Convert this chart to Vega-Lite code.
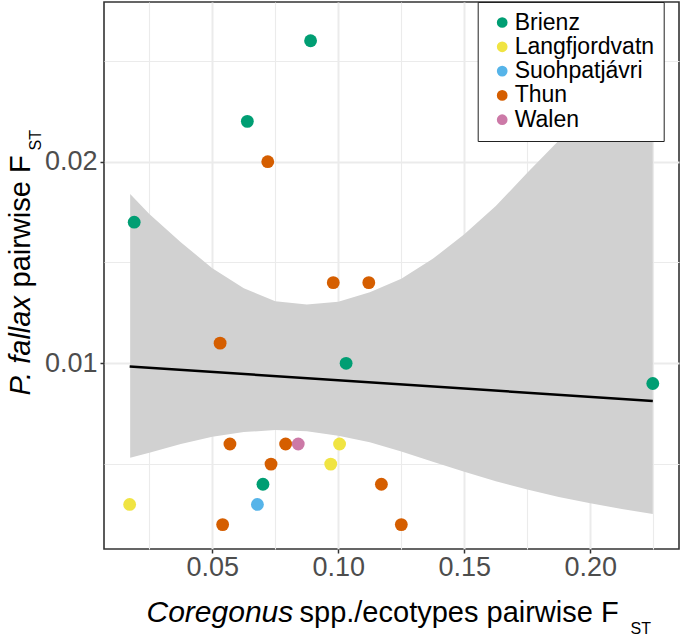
{
  "$schema": "https://vega.github.io/schema/vega-lite/v6.json",
  "width": 575,
  "height": 547,
  "autosize": "none",
  "padding": {"left": 104, "top": 2, "right": 1, "bottom": 88},
  "background": "white",
  "config": {
    "font": "Liberation Sans",
    "view": {"stroke": "#333333", "strokeWidth": 1.6},
    "axis": {"domain": false, "labelOverlap": false, "labelFlush": false, "titleFontWeight": "normal", "titleColor": "black", "titleAnchor": null}
  },
  "data": {"values": [
    {"x": 0.0890, "y": 0.0260, "lake": "Brienz"},
    {"x": 0.0639, "y": 0.0220, "lake": "Brienz"},
    {"x": 0.0190, "y": 0.0170, "lake": "Brienz"},
    {"x": 0.1031, "y": 0.0100, "lake": "Brienz"},
    {"x": 0.2248, "y": 0.0090, "lake": "Brienz"},
    {"x": 0.0701, "y": 0.0040, "lake": "Brienz"},
    {"x": 0.0720, "y": 0.0200, "lake": "Thun"},
    {"x": 0.0980, "y": 0.0140, "lake": "Thun"},
    {"x": 0.1121, "y": 0.0140, "lake": "Thun"},
    {"x": 0.0531, "y": 0.0110, "lake": "Thun"},
    {"x": 0.0570, "y": 0.0060, "lake": "Thun"},
    {"x": 0.0791, "y": 0.0060, "lake": "Thun"},
    {"x": 0.0733, "y": 0.0050, "lake": "Thun"},
    {"x": 0.0541, "y": 0.0020, "lake": "Thun"},
    {"x": 0.1171, "y": 0.0040, "lake": "Thun"},
    {"x": 0.1250, "y": 0.0020, "lake": "Thun"},
    {"x": 0.0841, "y": 0.0060, "lake": "Walen"},
    {"x": 0.0172, "y": 0.0030, "lake": "Langfjordvatn"},
    {"x": 0.0970, "y": 0.0050, "lake": "Langfjordvatn"},
    {"x": 0.1005, "y": 0.0060, "lake": "Langfjordvatn"},
    {"x": 0.0679, "y": 0.0030, "lake": "Suohpatjávri"}
  ]},
  "resolve": {"scale": {"x": "shared", "y": "shared"}, "axis": {"x": "independent", "y": "independent"}},
  "layer": [
    {
      "data": {"values": [
        {"x": 0.0174, "lo": 0.00532, "hi": 0.01840},
        {"x": 0.025, "lo": 0.00557, "hi": 0.01740},
        {"x": 0.0375, "lo": 0.00600, "hi": 0.01600},
        {"x": 0.05, "lo": 0.00636, "hi": 0.01472},
        {"x": 0.0625, "lo": 0.00659, "hi": 0.01372},
        {"x": 0.075, "lo": 0.00669, "hi": 0.01308},
        {"x": 0.0875, "lo": 0.00663, "hi": 0.01292},
        {"x": 0.10, "lo": 0.00641, "hi": 0.01305},
        {"x": 0.1125, "lo": 0.00608, "hi": 0.01352},
        {"x": 0.125, "lo": 0.00562, "hi": 0.01420},
        {"x": 0.1375, "lo": 0.00512, "hi": 0.01518},
        {"x": 0.15, "lo": 0.00462, "hi": 0.01640},
        {"x": 0.1625, "lo": 0.00415, "hi": 0.01780},
        {"x": 0.175, "lo": 0.00374, "hi": 0.01945},
        {"x": 0.1875, "lo": 0.00337, "hi": 0.02105},
        {"x": 0.2, "lo": 0.00306, "hi": 0.02280},
        {"x": 0.2125, "lo": 0.00277, "hi": 0.02470},
        {"x": 0.2248, "lo": 0.00252, "hi": 0.02670}
      ]},
      "mark": {"type": "area", "color": "#D1D1D1", "opacity": 1},
      "encoding": {
        "x": {"field": "x", "type": "quantitative",
          "scale": {"domain": [0.00702, 0.2352], "nice": false, "zero": false},
          "axis": {"orient": "bottom", "values": [0.05, 0.1, 0.15, 0.2], "format": ".2f",
            "grid": true, "gridColor": "#EBEBEB", "gridWidth": 2,
            "ticks": true, "tickSize": 4, "tickColor": "#333333", "tickWidth": 1.5,
            "labelFontSize": 27, "labelColor": "#4D4D4D", "labelPadding": 1,
            "title": "Coregonus", "titleFontStyle": "italic", "titleFontSize": 30,
            "titleX": 42, "titleY": 72.7, "titleAlign": "left", "titleBaseline": "alphabetic"}},
        "y": {"field": "lo", "type": "quantitative",
          "scale": {"domain": [0.00079, 0.02792], "nice": false, "zero": false},
          "axis": {"orient": "left", "values": [0.01, 0.02], "format": ".2f",
            "grid": true, "gridColor": "#EBEBEB", "gridWidth": 2,
            "ticks": true, "tickSize": 4, "tickColor": "#333333", "tickWidth": 1.5,
            "labelFontSize": 27, "labelColor": "#4D4D4D", "labelPadding": 3,
            "title": "P. fallax", "titleFontStyle": "italic", "titleFontSize": 29,
            "titleAngle": -90, "titleX": -75, "titleY": 393, "titleAlign": "left", "titleBaseline": "alphabetic"}},
        "y2": {"field": "hi"}
      }
    },
    {
      "transform": [{"regression": "y", "on": "x"}],
      "mark": {"type": "line", "color": "black", "strokeWidth": 2.5},
      "encoding": {
        "x": {"field": "x", "type": "quantitative",
          "axis": {"orient": "bottom", "values": [0.025, 0.075, 0.125, 0.175, 0.225],
            "grid": true, "gridColor": "#EBEBEB", "gridWidth": 1.1,
            "ticks": false, "labels": false,
            "title": "spp./ecotypes pairwise F", "titleFontSize": 29,
            "titleX": 195, "titleY": 72.7, "titleAlign": "left", "titleBaseline": "alphabetic"}},
        "y": {"field": "y", "type": "quantitative",
          "axis": {"orient": "left", "values": [0.005, 0.015, 0.025],
            "grid": true, "gridColor": "#EBEBEB", "gridWidth": 1.1,
            "ticks": false, "labels": false,
            "title": "pairwise F", "titleFontSize": 29,
            "titleAngle": -90, "titleX": -75, "titleY": 285, "titleAlign": "left", "titleBaseline": "alphabetic"}}
      }
    },
    {
      "mark": {"type": "circle", "size": 165, "opacity": 1},
      "encoding": {
        "x": {"field": "x", "type": "quantitative",
          "axis": {"orient": "bottom", "grid": false, "ticks": false, "labels": false,
            "title": "ST", "titleFontSize": 16,
            "titleX": 526, "titleY": 84, "titleAlign": "left", "titleBaseline": "alphabetic"}},
        "y": {"field": "y", "type": "quantitative",
          "axis": {"orient": "left", "grid": false, "ticks": false, "labels": false,
            "title": "ST", "titleFontSize": 16,
            "titleAngle": -90, "titleX": -64, "titleY": 148, "titleAlign": "left", "titleBaseline": "alphabetic"}},
        "color": {"field": "lake", "type": "nominal",
          "scale": {"domain": ["Brienz", "Langfjordvatn", "Suohpatjávri", "Thun", "Walen"],
                    "range": ["#009E73", "#F0E442", "#56B4E9", "#D55E00", "#CC79A7"]},
          "legend": {"orient": "none", "legendX": 373.7, "legendY": 0, "title": null,
            "fillColor": "white", "strokeColor": "#222222",
            "padding": 9, "labelFontSize": 23, "labelColor": "black", "labelOffset": 1,
            "symbolType": "circle", "symbolSize": 115, "symbolStrokeWidth": 0, "symbolOpacity": 1,
            "symbolOffset": 4, "rowPadding": 0.3}}
      }
    }
  ]
}
